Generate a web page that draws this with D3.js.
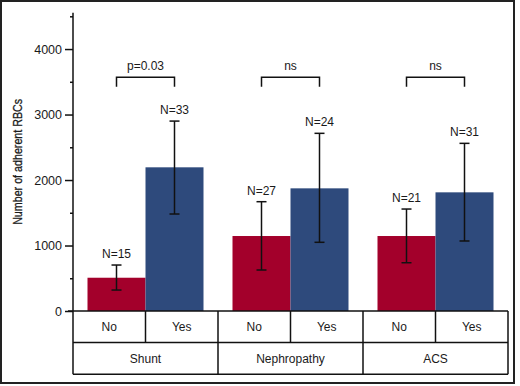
<!DOCTYPE html>
<html>
<head>
<meta charset="utf-8">
<script src="https://cdn.jsdelivr.net/npm/d3@7"></script>
<style>
  html, body { margin: 0; padding: 0; background: #fff; }
  svg text { font-family: "Liberation Sans", Arial, sans-serif; fill: #1a1a1a; }
</style>
</head>
<body>
<svg id="chart" width="520" height="386"></svg>
<script>
// categories
const groups = ["Shunt", "Nephropathy", "ACS"];
const subgroups = ["No", "Yes"];

// mean number of adherent RBCs [No, Yes]
const means = [[508, 2194], [1145, 1873], [1145, 1812]];
// error bar ends
const errLow = [[320, 1481], [626, 1049], [737, 1069]];
const errHigh = [[702, 2900], [1669, 2713], [1557, 2560]];
// sample sizes
const counts = [[15, 33], [27, 24], [21, 31]];
// comparison labels
const pLabels = ["p=0.03", "ns", "ns"];

const majorTicks = [0, 1000, 2000, 3000, 4000];
const minorTicks = [500, 1500, 2500, 3500, 4500];

(function () {
  const colors = { No: "#a3002b", Yes: "#2e4a7c" };

  const svg = d3.select("#chart");

  // outer frame
  svg.append("rect")
    .attr("x", 1).attr("y", 1)
    .attr("width", 513).attr("height", 382)
    .attr("fill", "none")
    .attr("stroke", "#222")
    .attr("stroke-width", 2);

  const left = 73, right = 508, plotTop = 12.7, base = 311;
  const rowH = 31.6;

  const x = d3.scaleBand().domain(groups).range([left, right]).padding(0);
  const xSub = d3.scaleBand().domain(subgroups).range([0, x.bandwidth()])
    .paddingInner(0).paddingOuter(0.25);
  const xCell = d3.scaleBand().domain(subgroups).range([0, x.bandwidth()]).padding(0);
  const y = d3.scaleLinear().domain([0, 4555]).range([base, plotTop]);

  // rows of data
  const rows = [];
  groups.forEach((g, gi) => {
    subgroups.forEach((s, si) => {
      rows.push({
        group: g, sub: s,
        value: means[gi][si],
        lo: errLow[gi][si],
        hi: errHigh[gi][si],
        n: counts[gi][si]
      });
    });
  });

  // bars
  svg.append("g")
    .selectAll("rect")
    .data(rows)
    .enter()
    .append("rect")
    .attr("x", d => x(d.group) + xSub(d.sub))
    .attr("y", d => y(d.value))
    .attr("width", xSub.bandwidth())
    .attr("height", d => base - y(d.value))
    .attr("fill", d => colors[d.sub]);

  // error bars
  const cx = d => x(d.group) + xSub(d.sub) + xSub.bandwidth() / 2;
  const eb = svg.append("g").attr("stroke", "#111").attr("stroke-width", 1.5);
  rows.forEach(d => {
    eb.append("line").attr("x1", cx(d)).attr("x2", cx(d))
      .attr("y1", y(d.lo)).attr("y2", y(d.hi));
    [d.lo, d.hi].forEach(v => {
      eb.append("line").attr("x1", cx(d) - 5).attr("x2", cx(d) + 5)
        .attr("y1", y(v)).attr("y2", y(v));
    });
  });

  // N labels
  svg.append("g")
    .selectAll("text")
    .data(rows)
    .enter()
    .append("text")
    .attr("x", d => cx(d))
    .attr("y", d => y(d.hi) - 7)
    .attr("text-anchor", "middle")
    .style("font-size", "12px")
    .text(d => `N=${d.n}`);

  // significance brackets
  const bracketTop = 3568, bracketLeg = 3424;
  groups.forEach((g, gi) => {
    const x0 = x(g) + xSub("No") + xSub.bandwidth() / 2;
    const x1 = x(g) + xSub("Yes") + xSub.bandwidth() / 2;
    svg.append("path")
      .attr("d", `M${x0},${y(bracketLeg)}V${y(bracketTop)}H${x1}V${y(bracketLeg)}`)
      .attr("fill", "none")
      .attr("stroke", "#111")
      .attr("stroke-width", 1.5);
    svg.append("text")
      .attr("x", (x0 + x1) / 2)
      .attr("y", y(bracketTop) - 7.5)
      .attr("text-anchor", "middle")
      .style("font-size", "12px")
      .text(pLabels[gi]);
  });

  // y axis
  const yAxis = svg.append("g")
    .attr("transform", `translate(${left},0)`)
    .call(d3.axisLeft(y).tickValues(majorTicks).tickSize(8).tickPadding(3)
      .tickFormat(d3.format("d")));
  yAxis.select(".domain").remove();
  yAxis.selectAll(".tick line").attr("stroke", "#111").attr("stroke-width", 1.5);
  yAxis.selectAll("text").style("font-size", "12.5px").attr("fill", "#1a1a1a");

  svg.append("g")
    .attr("transform", `translate(${left},0)`)
    .call(d3.axisLeft(y).tickValues(minorTicks).tickSize(3).tickFormat(""))
    .call(g => g.select(".domain").remove())
    .selectAll(".tick line").attr("stroke", "#111").attr("stroke-width", 1.5);

  svg.append("line")
    .attr("x1", left).attr("x2", left)
    .attr("y1", plotTop).attr("y2", base + rowH * 2)
    .attr("stroke", "#111").attr("stroke-width", 1.5);

  // y title
  svg.append("text")
    .attr("transform", `translate(22,${(plotTop + base) / 2}) rotate(-90)`)
    .attr("text-anchor", "middle")
    .attr("textLength", 126)
    .attr("lengthAdjust", "spacingAndGlyphs")
    .attr("stroke", "#1a1a1a")
    .attr("stroke-width", 0.3)
    .style("font-family", "'Liberation Sans Narrow', 'Liberation Sans', sans-serif")
    .style("font-size", "13.5px")
    .text("Number of adherent RBCs");

  // category table below the axis
  const table = svg.append("g")
    .attr("stroke", "#111").attr("stroke-width", 1.5).attr("fill", "none");
  [0, 1, 2].forEach(r => {
    table.append("line")
      .attr("x1", r === 0 ? left - 5 : left).attr("x2", right)
      .attr("y1", base + rowH * r).attr("y2", base + rowH * r);
  });
  groups.forEach(g => {
    const gx = x(g) + x.bandwidth();
    table.append("line").attr("x1", gx).attr("x2", gx)
      .attr("y1", base).attr("y2", base + rowH * 2);
    const mx = x(g) + xCell("Yes");
    table.append("line").attr("x1", mx).attr("x2", mx)
      .attr("y1", base).attr("y2", base + rowH);
  });

  const labels = svg.append("g").style("font-size", "12px").attr("text-anchor", "middle");
  rows.forEach(d => {
    labels.append("text")
      .attr("x", x(d.group) + xCell(d.sub) + xCell.bandwidth() / 2)
      .attr("y", base + rowH / 2)
      .attr("dy", "0.35em")
      .text(d.sub);
  });
  groups.forEach(g => {
    labels.append("text")
      .attr("x", x(g) + x.bandwidth() / 2)
      .attr("y", base + rowH * 1.5)
      .attr("dy", "0.35em")
      .text(g);
  });
})();
</script>
</body>
</html>
